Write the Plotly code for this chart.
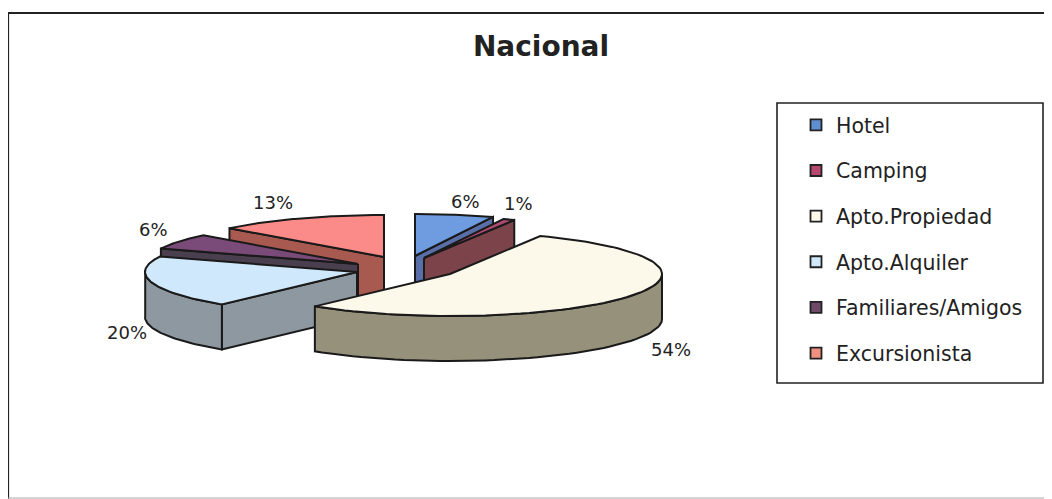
import numpy as np
import plotly.graph_objects as go

categories = ["Hotel", "Camping", "Apto.Propiedad", "Apto.Alquiler", "Familiares/Amigos", "Excursionista"]
values = [6, 1, 54, 20, 6, 13]
top_colors = ["#6f9be0", "#b04a70", "#fdf9ea", "#cfe8fb", "#7a4a78", "#fb8b88"]
side_colors = ["#5a6fa8", "#7c434a", "#96917a", "#8e98a0", "#4a3f4f", "#a85a50"]
swatch_colors = ["#5f8fd0", "#b8466e", "#fdf9ea", "#cfe8fb", "#6e4a68", "#f0907f"]

# Pie geometry, in page pixels (the axes below map 1:1 onto the page)
RX, RY, DEPTH = 212, 42, 45
CENTERS = {"Hotel": (415, 256), "Camping": (424, 258), "Apto.Propiedad": (450, 274),
           "Apto.Alquiler": (357, 272), "Familiares/Amigos": (358, 264), "Excursionista": (384, 257)}
DRAW_ORDER = ["Hotel", "Camping", "Excursionista", "Familiares/Amigos", "Apto.Alquiler", "Apto.Propiedad"]
LABEL_POS = {"Hotel": (465, 201), "Camping": (518, 203), "Apto.Propiedad": (671, 349),
             "Apto.Alquiler": (127, 332), "Familiares/Amigos": (153, 229), "Excursionista": (273, 202)}

W, H, PAGE_MARGIN = 1044, 491, 8
def px(x):
    return (x - PAGE_MARGIN) / W
def py(y):
    return 1 - (y - PAGE_MARGIN) / H

fig = go.Figure()
total = sum(values)
spans = {}
acc = 0.0
for c, v in zip(categories, values):
    spans[c] = (acc / total * 2 * np.pi, (acc + v) / total * 2 * np.pi)
    acc += v

def pt(c, a):
    cx, cy = CENTERS[c]
    return cx + RX * np.sin(a), cy - RY * np.cos(a)

def poly(xs, ys, fill, name=None):
    fig.add_trace(go.Scatter(x=xs, y=ys, mode="lines", fill="toself", fillcolor=fill,
                             line=dict(color="#1a1a1a", width=2), showlegend=False,
                             hoverinfo="text", text=name))

for c in DRAW_ORDER:
    i = categories.index(c)
    a0, a1 = spans[c]
    cx, cy = CENTERS[c]
    side = side_colors[i]
    walls = []
    if np.sin(a0) < -1e-9:
        walls.append(a0)
    if np.sin(a1) > 1e-9:
        walls.append(a1)
    for a in walls:
        x, y = pt(c, a)
        poly([cx, x, x, cx, cx], [cy, y, y + DEPTH, cy + DEPTH, cy], side, c)
    th = np.linspace(a0, a1, 80)
    ax, ay = pt(c, th)
    front = np.cos(th) < 0.05
    if front.any():
        fx, fy = ax[front], ay[front]
        poly(list(fx) + list(fx[::-1]) + [fx[0]], list(fy) + list(fy[::-1] + DEPTH) + [fy[0]], side, c)
    poly([cx] + list(ax) + [cx], [cy] + list(ay) + [cy], top_colors[i], c)
    lx, ly = LABEL_POS[c]
    fig.add_annotation(x=lx, y=ly, text=f"{values[i]}%", showarrow=False,
                       font=dict(family="DejaVu Sans", size=18, color="#222"))

for c, col in zip(categories, swatch_colors):
    fig.add_trace(go.Scatter(x=[None], y=[None], mode="markers", name=c, legendgroup=c,
                             marker=dict(symbol="square", size=11, color=col,
                                         line=dict(color="#222", width=1.8))))

def seg(x0, y0, x1, y1, color, width):
    return dict(type="line", xref="x", yref="y", x0=x0, y0=y0, x1=x1, y1=y1,
                line=dict(color=color, width=width), layer="below")

fig.update_layout(
    width=W, height=H, margin=dict(l=0, r=0, t=0, b=0),
    paper_bgcolor="white", plot_bgcolor="white",
    xaxis=dict(range=[PAGE_MARGIN, PAGE_MARGIN + W], visible=False, fixedrange=True),
    yaxis=dict(range=[PAGE_MARGIN + H, PAGE_MARGIN], visible=False, fixedrange=True),
    title=dict(text="<b>Nacional</b>", x=px(541), xanchor="center", y=py(46), yanchor="middle",
               font=dict(family="DejaVu Sans", size=28, color="#222")),
    legend=dict(x=px(777), y=py(105), xanchor="left", yanchor="top", borderwidth=0,
                bgcolor="rgba(0,0,0,0)", tracegroupgap=16, indentation=19,
                font=dict(family="DejaVu Sans", size=20.5, color="#222")),
    shapes=[seg(8, 13, 1052, 13, "#222", 2.2), seg(8, 13, 8, 499, "#222", 2.2),
            seg(8, 498, 1052, 498, "#aaa", 1),
            dict(type="rect", xref="x", yref="y", x0=777, x1=1043, y0=103, y1=383,
                 fillcolor="white", line=dict(color="#222", width=1.6), layer="below")],
)
fig.write_html("out.html")
